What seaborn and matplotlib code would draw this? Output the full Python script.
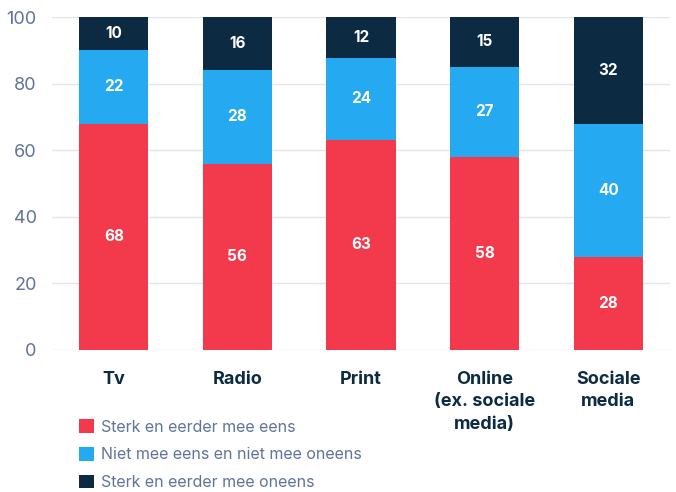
import matplotlib
matplotlib.use("Agg")
import matplotlib.pyplot as plt
import seaborn as sns
import pandas as pd
import numpy as np
from matplotlib.patches import Patch

categories = ["Tv", "Radio", "Print", "Online\n(ex. sociale\nmedia)", "Sociale\nmedia"]
eens = [68, 56, 63.2, 58, 28]
neutraal = [22, 28, 24.4, 27, 40]
oneens = [10, 16, 12.4, 15, 32]
series_names = ["Sterk en eerder mee eens", "Niet mee eens en niet mee oneens", "Sterk en eerder mee oneens"]
colors = ["#F23A4C", "#25A9F0", "#0C2B42"]
yticks = [0, 20, 40, 60, 80, 100]

sns.set_theme(style="white")
plt.rcParams['font.family'] = ['Inter', 'DejaVu Sans']

fig = plt.figure(figsize=(6.76, 4.92), dpi=100)
ax = fig.add_axes([52/676, 1-350/492, (670-52)/676, (350-17)/492])

df = pd.DataFrame({"cat": categories, "eens": eens, "neutraal": neutraal, "oneens": oneens})

# cumulative stacks, drawn tallest first so shorter stacks sit on top
stacks = []
bottoms = np.zeros(len(categories))
for col in ["eens", "neutraal", "oneens"]:
    bottoms = bottoms + np.array(df[col], dtype=float)
    stacks.append(bottoms.copy())
for cum, c, z in zip(stacks[::-1], colors[::-1], [2, 3, 4]):
    sns.barplot(x=df["cat"], y=cum, color=c, width=0.56, ax=ax, saturation=1, zorder=z)
for p in ax.patches:
    p.set_edgecolor("none")

# value labels
bottoms = np.zeros(len(categories))
for col in ["eens", "neutraal", "oneens"]:
    vals = np.array(df[col], dtype=float)
    for i, v in enumerate(vals):
        ax.text(i, bottoms[i] + v/2, f"{int(round(v))}", ha="center", va="center",
                color="white", fontsize=11, fontweight="bold", zorder=10)
    bottoms += vals

ax.set_xlim(-0.5, 4.5)
ax.set_ylim(0, 100)
ax.set_yticks(yticks)
ax.set_yticklabels([str(t) for t in yticks], fontsize=13, color="#60739A")
ax.yaxis.grid(True, color="#E3E4EC", linewidth=1, zorder=0)
ax.set_axisbelow(True)
ax.tick_params(axis="y", length=0, pad=11)
ax.tick_params(axis="x", length=0, pad=15)
ax.set_xticks(range(len(categories)))
ax.set_xticklabels(categories, fontsize=13, fontweight="bold", color="#0C2B42", linespacing=1.42, va="top")
for s in ax.spines.values():
    s.set_visible(False)
ax.set_xlabel("")
ax.set_ylabel("")

handles = [Patch(facecolor=c, edgecolor="none") for c in colors]
fig.legend(handles, series_names, loc="upper left", bbox_to_anchor=(65/676, 1-405/492),
           frameon=False, fontsize=11.5, labelcolor="#60739A", handlelength=0.9, handleheight=0.9,
           handletextpad=0.45, labelspacing=0.8)

fig.savefig("out.png", dpi=100)
